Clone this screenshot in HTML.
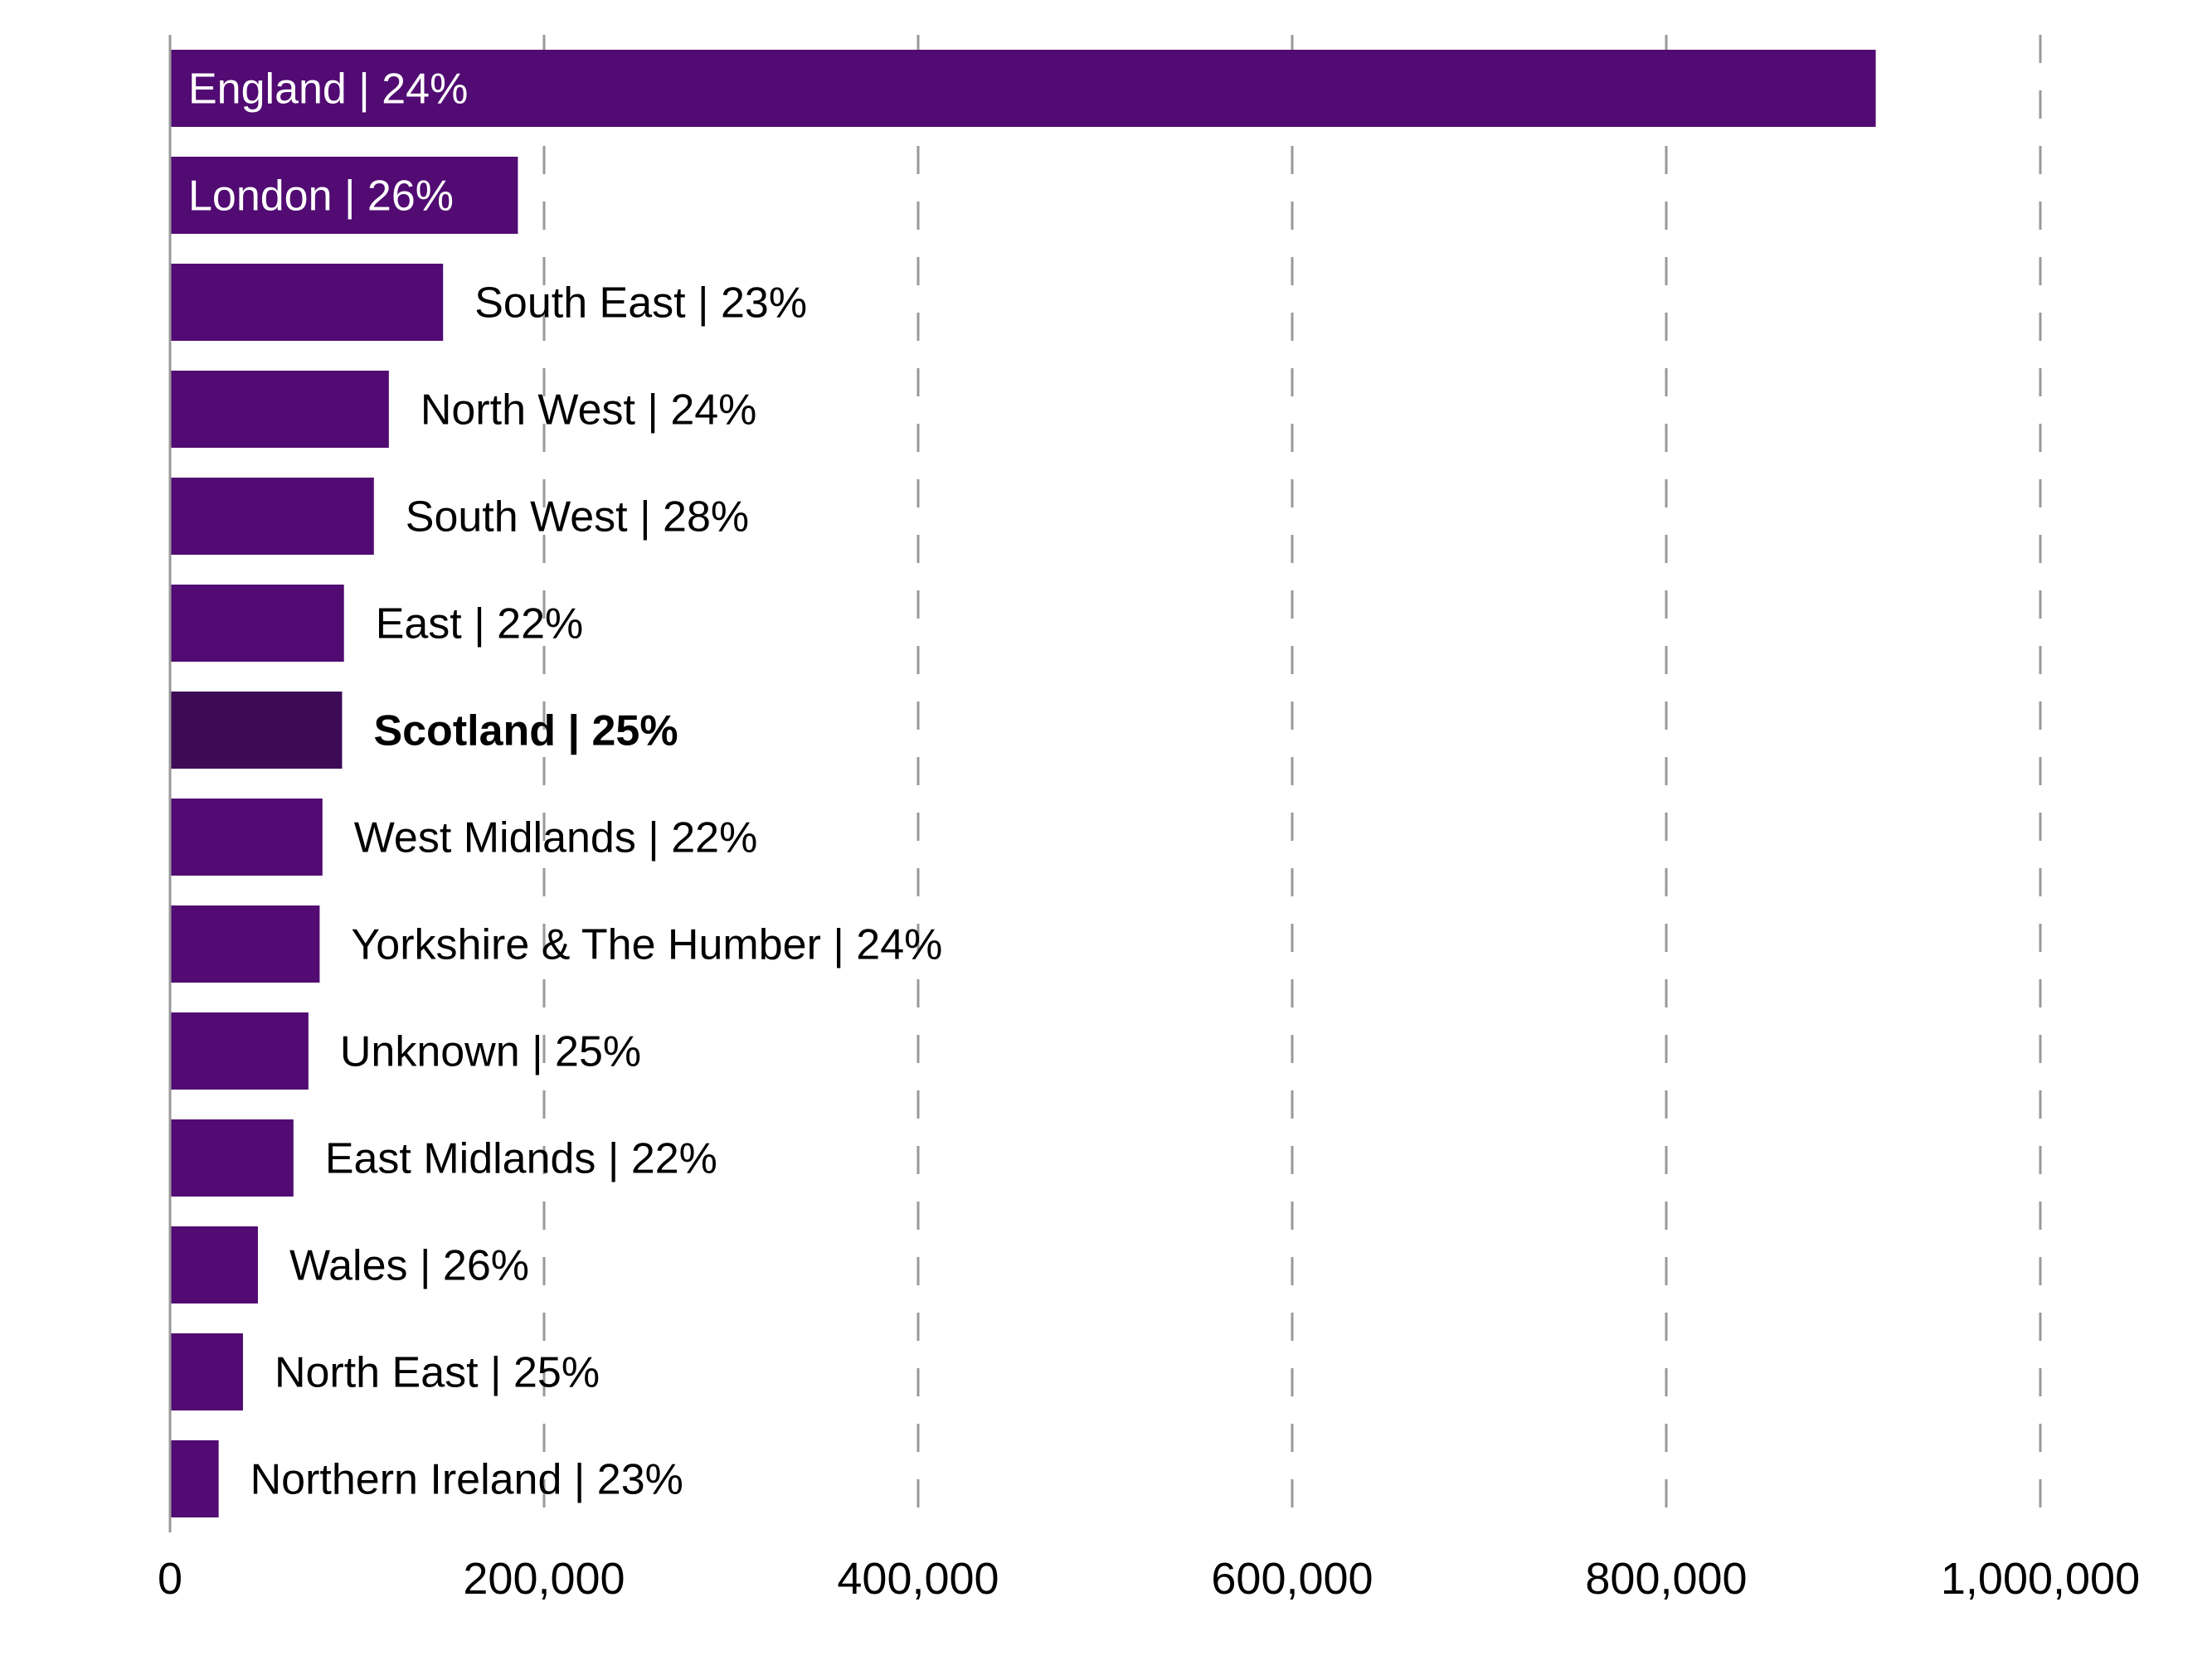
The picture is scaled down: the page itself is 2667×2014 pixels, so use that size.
<!DOCTYPE html>
<html><head><meta charset="utf-8">
<style>
html,body{margin:0;padding:0;background:#fff;}
svg{display:block;font-family:"Liberation Sans",sans-serif;}
</style></head>
<body>
<svg id="chart" width="2667" height="2014" viewBox="0 0 2667 2014" xmlns="http://www.w3.org/2000/svg">
<g id="grid"></g>
<g id="bars"></g>
<g id="labels"></g>
<g id="xaxis"></g>
</svg>
<script>
const categories = ["England","London","South East","North West","South West","East","Scotland","West Midlands","Yorkshire & The Humber","Unknown","East Midlands","Wales","North East","Northern Ireland"];
const values = [912000,186000,146000,117000,109000,93000,92000,81500,80000,74000,66000,47000,39000,26000];
const percents = ["24%","26%","23%","24%","28%","22%","25%","22%","24%","25%","22%","26%","25%","23%"];
const tickValues = [0,200000,400000,600000,800000,1000000];
const tickLabels = ["0","200,000","400,000","600,000","800,000","1,000,000"];

const NS="http://www.w3.org/2000/svg";
const x0=205, pxPer=451/200000;
const top0=60, pitch=129, barH=93, axisTop=42, axisBottom=1848;
function xs(v){return x0+v*pxPer;}
function yb(i){return top0+i*pitch;}
function mk(tag,attrs,parent){const e=document.createElementNS(NS,tag);for(const k in attrs)e.setAttribute(k,attrs[k]);parent.appendChild(e);return e;}

const grid=document.getElementById('grid');
tickValues.forEach((t,i)=>{
  if(i===0)return;
  const l=mk('line',{x1:xs(t),x2:xs(t),y1:axisTop,y2:axisBottom,stroke:'#999','stroke-width':3,'stroke-dasharray':'34 33'},grid);
  
  
});

const bars=document.getElementById('bars');
const labels=document.getElementById('labels');
categories.forEach((c,i)=>{
  const isScot=c==="Scotland";
  const w=xs(values[i])-x0;
  const r=mk('rect',{x:x0,y:yb(i),width:w,height:barH,fill:isScot?'#3d0a55':'#510b72'},bars);
  
  
  const inside=w>400;
  const t=mk('text',{x:inside?x0+22:xs(values[i])+38,y:yb(i)+barH/2+18,'font-size':52,fill:inside?'#fff':'#000','font-weight':isScot?'bold':'normal'},labels);
  t.textContent=c+" | "+percents[i];
  
  
});

const xaxis=document.getElementById('xaxis');
const al=mk('line',{x1:x0,x2:x0,y1:axisTop,y2:axisBottom,stroke:'#999','stroke-width':3},xaxis);


tickValues.forEach((t,i)=>{
  const tx=mk('text',{x:xs(t),y:1922,'font-size':54,fill:'#000','text-anchor':'middle'},xaxis);
  tx.textContent=tickLabels[i];
  
  
});
</script>
</body></html>
